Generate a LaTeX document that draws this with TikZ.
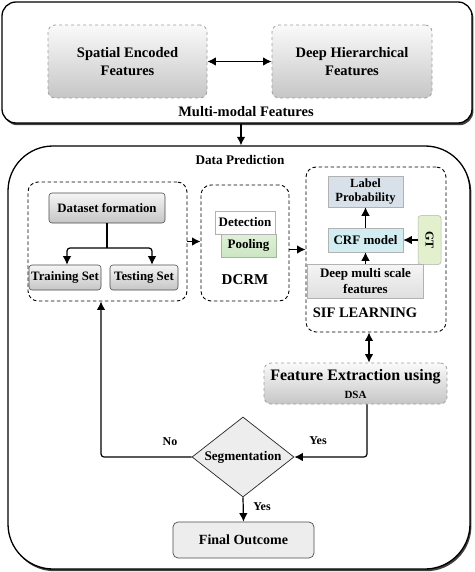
\documentclass[tikz,border=0pt]{standalone}
\usepackage{fontspec}
\setmainfont{Liberation Serif}
\usetikzlibrary{shapes,arrows,shadows}
\usetikzlibrary{arrows.meta}
\definecolor{boxGray}{HTML}{EDEDED}
\definecolor{probBlue}{HTML}{D8E1EA}
\definecolor{crfCyan}{HTML}{D2EDF1}
\definecolor{gtGreen}{HTML}{E2F0CD}
\definecolor{poolGreen}{HTML}{CBE6C2}
\tikzset{%
  >={Latex[width=3mm,length=3mm]},
  % Specifications for style of nodes:
        outerBox/.style = {rectangle, draw=black, line width=1.3pt, fill=white,
                           drop shadow={shadow xshift=1.4pt, shadow yshift=-2.2pt,
                                        fill=black!75, opacity=1}},
         featBox/.style = {rectangle, rounded corners=7pt, draw=gray!75, dashed,
                           line width=0.8pt, top color=gray!4, bottom color=gray!45,
                           align=center, font=\fontsize{14.5}{18}\selectfont\bfseries},
       dashGroup/.style = {rectangle, rounded corners=10pt, draw=black,
                           dash pattern=on 3.5pt off 2.5pt, line width=0.9pt},
         grayBox/.style = {rectangle, rounded corners=3pt, draw=gray!60!black,
                           line width=0.6pt, top color=gray!8, bottom color=gray!45,
                           inner sep=1pt, font=\fontsize{12.8}{15}\selectfont\bfseries},
         flatBox/.style = {rectangle, draw=gray!60, line width=0.5pt, align=center,
                           inner sep=1pt, font=\fontsize{13}{16}\selectfont\bfseries},
        decision/.style = {diamond, draw=gray!30!black, line width=0.7pt, fill=boxGray,
                           shape aspect=1.275, inner sep=0pt, minimum width=102pt,
                           minimum height=80pt, font=\fontsize{13.2}{15}\selectfont\bfseries},
          result/.style = {rectangle, rounded corners=5pt, draw=gray!60!black,
                           line width=0.7pt, fill=boxGray, minimum width=141pt,
                           minimum height=36pt, font=\fontsize{14}{16}\selectfont\bfseries},
        plainTxt/.style = {inner sep=0pt, font=\fontsize{14.5}{17}\selectfont\bfseries},
         flowTxt/.style = {inner sep=0pt, font=\fontsize{12}{14}\selectfont\bfseries},
            conn/.style = {line width=1.2pt, rounded corners=3pt},
}

\begin{document}
\begin{tikzpicture}[x=1pt, y=1pt]
  \useasboundingbox (0,0) rectangle (474,-572);
  % Outer boxes

\node (multimodal) at (237,-62.5) [outerBox, rounded corners=14pt,
      minimum width=470pt, minimum height=121pt] {};
\node (predBox) at (239,-357.5) [outerBox, rounded corners=45pt,
      minimum width=462pt, minimum height=423pt] {};

\node (spatial) at (127.5,-61.5) [featBox, minimum width=159pt, minimum height=73pt]
      {Spatial Encoded\\Features};
\node (deepHier) at (352,-61.5) [featBox, minimum width=160pt, minimum height=73pt]
      {Deep Hierarchical\\Features};
\draw[conn,<->] (spatial) -- (deepHier);
\node (multiLabel) at (246,-112) [plainTxt] {Multi-modal Features};

\draw[conn,->] ([xshift=4pt]multimodal.south) -- ([xshift=2pt]predBox.north);
\node (predLabel) at (240,-160) [plainTxt, font=\fontsize{13.2}{15}\selectfont\bfseries]
      {Data Prediction};

% Dataset group
\node (datasetBox) at (107.5,-241.5) [dashGroup, minimum width=159pt, minimum height=119pt] {};
\node (formation) at (107,-208) [grayBox, minimum width=116pt, minimum height=30pt]
      {Dataset formation};
\node (training) at (65,-277.5) [grayBox, minimum width=72pt, minimum height=25pt]
      {Training Set};
\node (testing) at (144,-277.5) [grayBox, minimum width=68pt, minimum height=25pt]
      {Testing Set};
\coordinate (split) at (107,-248);
\draw[conn] (formation) -- (split);
\draw[conn,->] (split) -| ([xshift=2pt]training.north);
\draw[conn,->] (split) -| ([xshift=8pt]testing.north);

% DCRM group
\node (dcrmBox) at (245,-243) [dashGroup, minimum width=88pt, minimum height=116pt] {};
\node (pooling) at (248.5,-245.5) [flatBox, top color=poolGreen!60, bottom color=poolGreen,
      draw=poolGreen!80!black, minimum width=55pt, minimum height=23pt] {Pooling};
\node (detection) at (245,-222.5) [flatBox, fill=white, minimum width=60pt,
      minimum height=23pt] {Detection};
\draw[gray!60, line width=0.4pt, densely dotted] (detection.south west) -- (pooling.north west);
\node (dcrmLabel) at (245,-280) [plainTxt, font=\fontsize{15}{17}\selectfont\bfseries] {DCRM};
\draw[conn,->] (datasetBox.east) -- (datasetBox.east -| dcrmBox.west);

% SIF learning group
\node (sifBox) at (376,-249.5) [dashGroup, minimum width=140pt, minimum height=165pt] {};
\node (labelProb) at (365.5,-191.5) [flatBox, fill=probBlue, minimum width=75pt,
      minimum height=31pt, font=\fontsize{12.5}{14}\selectfont\bfseries] {Label\\Probability};
\node (crf) at (365.5,-240) [flatBox, fill=crfCyan, minimum width=75pt,
      minimum height=24pt] {CRF model};
\node (gt) at (429.5,-240) [flatBox, rounded corners=3pt, fill=gtGreen, rotate=-90,
      minimum width=49pt, minimum height=23pt, font=\fontsize{12}{14}\selectfont\bfseries] {GT};
\node (deepMulti) at (365.5,-281) [flatBox, top color=gray!8, bottom color=gray!25,
      minimum width=116pt, minimum height=34pt] {Deep multi scale\\features};
\node (sifLabel) at (365,-313) [plainTxt] {SIF LEARNING};
\draw[conn,->] (dcrmBox.east |- sifBox.west) -- (sifBox.west);
\draw[conn,->] (crf) -- (labelProb);
\draw[conn,->] (gt) -- (crf);
\draw[conn,->] (deepMulti) -- (crf);

% Feature extraction and decision
\node (featExt) at (355.5,-383.5) [featBox, minimum width=183pt, minimum height=41pt,
      inner sep=1pt, font=\fontsize{16}{18}\selectfont\bfseries]
      {Feature Extraction using\\{\fontsize{11}{13}\selectfont DSA}};
\draw[conn,<->] ([xshift=-7pt]sifBox.south) -- ([xshift=13.5pt]featExt.north);

\node (seg) at (243,-457) [decision] {Segmentation};
\node (final) at (243.5,-540) [result] {Final Outcome};

\draw[conn,->] ([xshift=11.5pt]featExt.south) |- (seg.east);
\draw[conn,->] (seg.west) -| ([xshift=-6.5pt]datasetBox.south);
\draw[conn,->] (seg.south) -- (final.north);
\node (yesRight) at (318,-441) [flowTxt] {Yes};
\node (noLeft) at (170,-442) [flowTxt] {No};
\node (yesDown) at (262,-507) [flowTxt] {Yes};
\end{tikzpicture}
\end{document}
